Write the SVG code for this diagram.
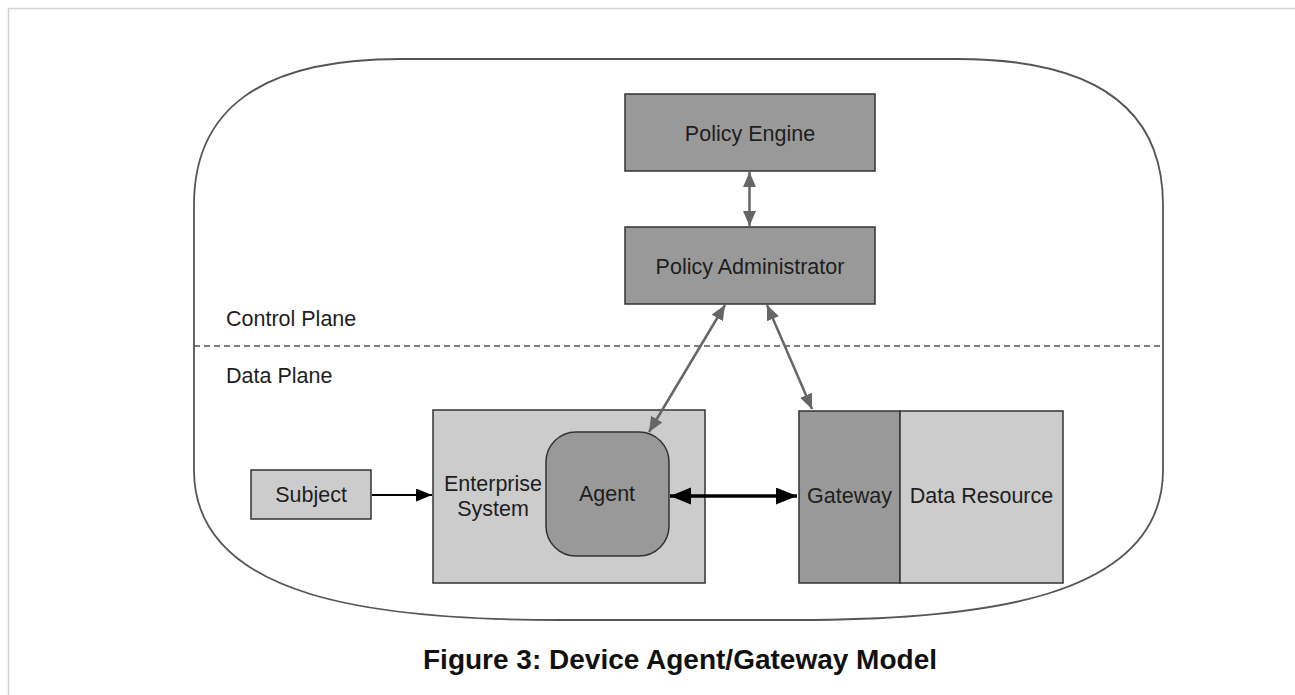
<svg xmlns="http://www.w3.org/2000/svg" width="1295" height="695" viewBox="0 0 1295 695">
  <style>
    text { font-family: "Liberation Sans", Arial, Helvetica, sans-serif; fill: #1e1e1e; }
    .lbl { font-size: 21.5px; text-anchor: middle; }
    .plane { font-size: 21.5px; }
    .title { font-size: 28px; font-weight: bold; text-anchor: middle; fill: #111; }
    .dark { fill: #999999; stroke: #333; stroke-width: 1.5; }
    .light { fill: #cccccc; stroke: #333; stroke-width: 1.5; }
    .gray { stroke: #666; stroke-width: 2.5; fill: none; }
    .blk { stroke: #000; fill: none; }
  </style>
  <defs>
    <marker id="gHead" markerUnits="userSpaceOnUse" markerWidth="16" markerHeight="14" refX="15" refY="6.5" orient="auto-start-reverse">
      <path d="M0,0 L15,6.5 L0,13 z" fill="#666"/>
    </marker>
    <marker id="bHead" markerUnits="userSpaceOnUse" markerWidth="17" markerHeight="14" refX="16" refY="6.5" orient="auto-start-reverse">
      <path d="M0,0 L16,6.5 L0,13 z" fill="#000"/>
    </marker>
    <marker id="bHeadBig" markerUnits="userSpaceOnUse" markerWidth="22" markerHeight="18" refX="21" refY="8.5" orient="auto-start-reverse">
      <path d="M0,0 L21,8.5 L0,17 z" fill="#000"/>
    </marker>
  </defs>

  <rect width="1295" height="695" fill="#fff"/>
  <!-- page frame -->
  <path d="M8.5 695 V8.5 H1295" fill="none" stroke="#d4d4d4" stroke-width="1.5"/>

  <!-- outer boundary -->
  <path d="M400 59 H957 C1097 59 1163 110 1163 205 V470 C1163 600 977 620 797 620 H560 C380 620 194 600 194 470 V205 C194 110 260 59 400 59 Z" fill="none" stroke="#555" stroke-width="1.8"/>

  <!-- plane separator -->
  <line x1="194" y1="346" x2="1163" y2="346" stroke="#555" stroke-width="1.5" stroke-dasharray="6 4"/>
  <text class="plane" x="226" y="326">Control Plane</text>
  <text class="plane" x="226" y="383">Data Plane</text>

  <g id="policy-engine">
    <rect class="dark" x="625" y="94" width="250" height="77"/>
    <text class="lbl" x="750" y="141">Policy Engine</text>
  </g>

  <g id="policy-administrator">
    <rect class="dark" x="625" y="227" width="250" height="77"/>
    <text class="lbl" x="750" y="274">Policy Administrator</text>
  </g>

  <g id="subject">
    <rect class="light" x="251" y="470" width="120" height="49"/>
    <text class="lbl" x="311" y="502">Subject</text>
  </g>

  <g id="enterprise-system">
    <rect class="light" x="433" y="410" width="272" height="173"/>
    <text class="lbl" x="493" y="491">Enterprise</text>
    <text class="lbl" x="493" y="516">System</text>
  </g>

  <g id="agent">
    <rect class="dark" x="546" y="432" width="123" height="124" rx="30" ry="30"/>
    <text class="lbl" x="607" y="501">Agent</text>
  </g>

  <g id="gateway">
    <rect class="dark" x="799" y="411" width="101" height="172"/>
    <text class="lbl" x="849.5" y="503">Gateway</text>
  </g>

  <g id="data-resource">
    <rect class="light" x="900" y="411" width="163" height="172"/>
    <text class="lbl" x="981.5" y="503">Data Resource</text>
  </g>

  <g id="connectors">
    <line class="gray" x1="749.5" y1="172" x2="749.5" y2="226" marker-start="url(#gHead)" marker-end="url(#gHead)"/>
    <line class="gray" x1="725" y1="305" x2="649" y2="432" marker-start="url(#gHead)" marker-end="url(#gHead)"/>
    <line class="gray" x1="767" y1="305" x2="812" y2="409" marker-start="url(#gHead)" marker-end="url(#gHead)"/>
    <line class="blk" stroke-width="2.2" x1="372" y1="495" x2="432" y2="495" marker-end="url(#bHead)"/>
    <line class="blk" stroke-width="3.5" x1="670" y1="496" x2="797" y2="496" marker-start="url(#bHeadBig)" marker-end="url(#bHeadBig)"/>
  </g>

  <text class="title" x="680" y="669">Figure 3: Device Agent/Gateway Model</text>
</svg>
